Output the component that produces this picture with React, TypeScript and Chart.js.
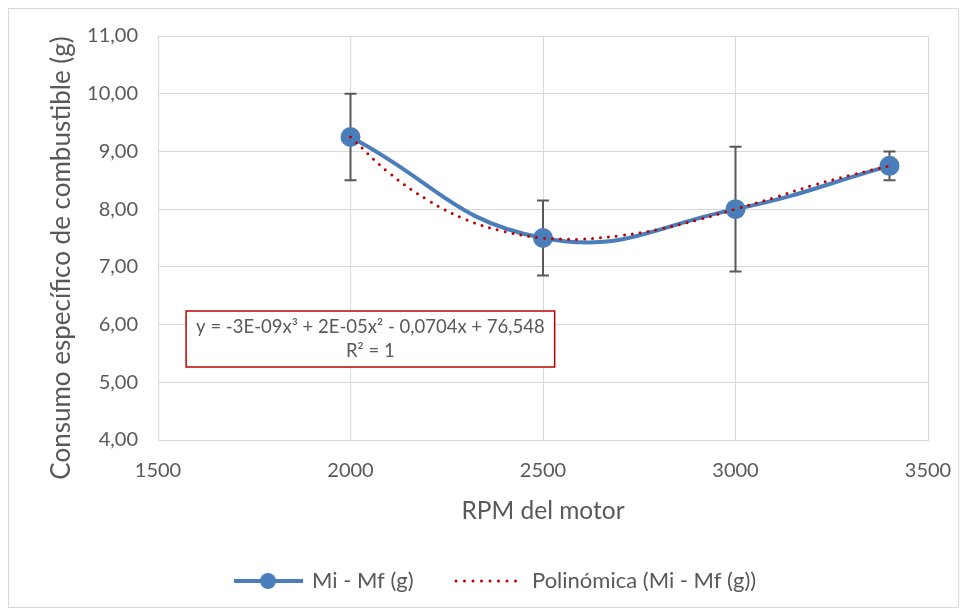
import React, { useEffect, useRef } from "react";
import { Chart, registerables } from "chart.js";
Chart.register(...registerables);

// ---- data ----
const rpm = [2000, 2500, 3000, 3400];
const consumo = [9.25, 7.5, 8.0, 8.75];
const errorLow = [8.5, 6.85, 6.92, 8.5];
const errorHigh = [10.0, 8.15, 9.08, 9.0];

// polynomial trend line
const trendRpm = [2000, 2100, 2200, 2300, 2400, 2500, 2550, 2600, 2700, 2800, 2900, 3000, 3100, 3200, 3300, 3400];
const trendConsumo = [9.25, 8.63, 8.16, 7.82, 7.61, 7.5, 7.48, 7.48, 7.54, 7.65, 7.81, 8.0, 8.2, 8.41, 8.59, 8.75];

const xTitle = "RPM del motor";
const yTitle = "Consumo específico de combustible (g)";
const seriesLabel = "Mi - Mf (g)";
const trendLabel = "Polinómica (Mi - Mf (g))";
const equationLines = ["y = -3E-09x³ + 2E-05x² - 0,0704x + 76,548", "R² = 1"];

const FONT = "Lato, 'Open Sans', sans-serif";
const TEXT = "#595959";
const BLUE = "#4a7ebb";
const RED = "#c00000";

export default function App() {
  const ref = useRef<HTMLCanvasElement | null>(null);
  useEffect(() => {
    const canvas = ref.current;
    if (!canvas) return;

    const errorBars = {
      id: "errorBars",
      beforeDatasetsDraw(chart: any) {
        const ctx = chart.ctx;
        const xs = chart.scales.x;
        const ys = chart.scales.y;
        ctx.save();
        ctx.strokeStyle = "#595959";
        ctx.lineWidth = 2;
        rpm.forEach((r, i) => {
          const px = xs.getPixelForValue(r);
          const lo = ys.getPixelForValue(errorLow[i]);
          const hi = ys.getPixelForValue(errorHigh[i]);
          ctx.beginPath();
          ctx.moveTo(px, lo);
          ctx.lineTo(px, hi);
          ctx.moveTo(px - 6, lo);
          ctx.lineTo(px + 6, lo);
          ctx.moveTo(px - 6, hi);
          ctx.lineTo(px + 6, hi);
          ctx.stroke();
        });
        ctx.restore();
      },
    };

    const extras = {
      id: "extras",
      afterDraw(chart: any) {
        const ctx = chart.ctx;
        const xs = chart.scales.x;
        const ys = chart.scales.y;
        ctx.save();
        // outer border
        ctx.strokeStyle = "#d9d9d9";
        ctx.lineWidth = 1;
        ctx.strokeRect(0.5, 0.5, chart.width - 1, chart.height - 1);

        // y axis title
        ctx.save();
        ctx.translate(54, 250);
        ctx.rotate(-Math.PI / 2);
        ctx.font = `26px ${FONT}`;
        ctx.fillStyle = TEXT;
        ctx.textAlign = "center";
        ctx.textBaseline = "middle";
        ctx.fillText(yTitle, 0, 0);
        ctx.restore();

        // equation box
        ctx.font = `18.5px ${FONT}`;
        const w = Math.max(...equationLines.map((l) => ctx.measureText(l).width)) + 20;
        const bx = xs.getPixelForValue(1573);
        const by = ys.getPixelForValue(6.235);
        const bh = 56;
        ctx.fillStyle = "#ffffff";
        ctx.fillRect(bx, by, w, bh);
        ctx.strokeStyle = RED;
        ctx.lineWidth = 1.5;
        ctx.strokeRect(bx, by, w, bh);
        ctx.fillStyle = TEXT;
        ctx.textAlign = "center";
        ctx.textBaseline = "middle";
        ctx.fillText(equationLines[0], bx + w / 2, by + 16);
        ctx.fillText(equationLines[1], bx + w / 2, by + 40);

        // legend
        const ly = 573;
        ctx.font = `22px ${FONT}`;
        ctx.textAlign = "left";
        let lx = 226;
        ctx.strokeStyle = BLUE;
        ctx.lineWidth = 4;
        ctx.beginPath();
        ctx.moveTo(lx, ly);
        ctx.lineTo(lx + 69, ly);
        ctx.stroke();
        ctx.fillStyle = BLUE;
        ctx.beginPath();
        ctx.arc(lx + 34, ly, 8, 0, Math.PI * 2);
        ctx.fill();
        ctx.fillStyle = TEXT;
        ctx.fillText(seriesLabel, lx + 78, ly);
        lx = 446;
        ctx.strokeStyle = RED;
        ctx.lineWidth = 3;
        ctx.lineCap = "round";
        ctx.setLineDash([0, 8.5]);
        ctx.beginPath();
        ctx.moveTo(lx + 2, ly);
        ctx.lineTo(lx + 70, ly);
        ctx.stroke();
        ctx.setLineDash([]);
        ctx.fillStyle = TEXT;
        ctx.fillText(trendLabel, lx + 78, ly);
        ctx.restore();
      },
    };

    const chart = new Chart(canvas, {
      type: "scatter",
      data: {
        datasets: [
          {
            label: trendLabel,
            data: trendRpm.map((x, i) => ({ x, y: trendConsumo[i] })),
            showLine: true,
            borderColor: RED,
            borderWidth: 3,
            borderDash: [0, 8],
            borderCapStyle: "round",
            pointRadius: 0,
            tension: 0.4,
            order: 0,
          },
          {
            label: seriesLabel,
            data: rpm.map((x, i) => ({ x, y: consumo[i] })),
            showLine: true,
            borderColor: BLUE,
            borderWidth: 4,
            backgroundColor: BLUE,
            pointBackgroundColor: BLUE,
            pointBorderColor: BLUE,
            pointRadius: 8,
            tension: 0.45,
            order: 1,
          },
        ],
      },
      options: {
        responsive: false,
        animation: false,
        layout: { padding: { top: 28, right: 31, bottom: 72, left: 0 } },
        plugins: { legend: { display: false }, tooltip: { enabled: false } },
        scales: {
          x: {
            type: "linear",
            min: 1500,
            max: 3500,
            ticks: {
              stepSize: 500,
              padding: 19,
              color: TEXT,
              font: { family: FONT, size: 20 },
              callback: (v: any) => String(v),
            },
            grid: { color: "#d9d9d9", drawTicks: false, lineWidth: 1 },
            border: { color: "#d9d9d9" },
            title: {
              display: true,
              text: xTitle,
              color: TEXT,
              font: { family: FONT, size: 24.5 },
              padding: { top: 0, bottom: 10 },
            },
            afterFit: (s: any) => {
              s.height = 96;
              s.paddingLeft = 0;
              s.paddingRight = 0;
            },
          },
          y: {
            min: 4,
            max: 11,
            ticks: {
              stepSize: 1,
              padding: 20,
              color: TEXT,
              font: { family: FONT, size: 20 },
              callback: (v: any) => Number(v).toFixed(2).replace(".", ","),
            },
            grid: { color: "#d9d9d9", drawTicks: false, lineWidth: 1 },
            border: { color: "#d9d9d9" },
            afterFit: (s: any) => {
              s.width = 150;
              s.paddingTop = 0;
              s.paddingBottom = 0;
            },
          },
        },
      },
      plugins: [errorBars, extras],
    });
    return () => chart.destroy();
  }, []);
  return <canvas ref={ref} width={951} height={600} />;
}
